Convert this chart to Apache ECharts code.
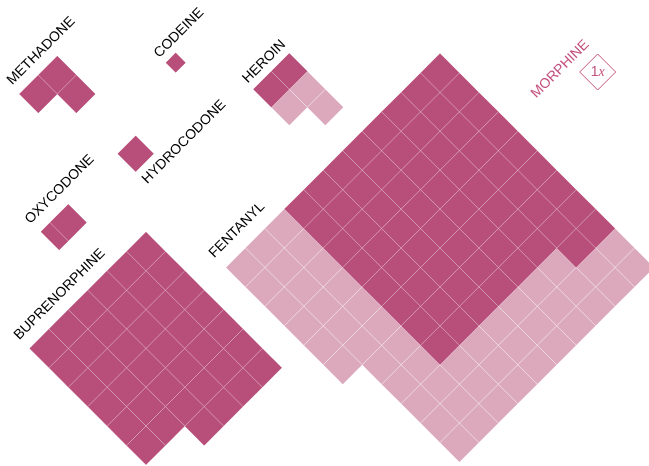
<!DOCTYPE html>
<html><head><meta charset="utf-8">
<script src="https://cdn.jsdelivr.net/npm/echarts@6/dist/echarts.min.js"></script>
<style>html,body{margin:0;padding:0;background:#fff}#c{width:649px;height:466px}</style>
</head><body><div id="c"></div>
<script>
// ---- data (potency relative to morphine; low = dark, high = light range) ----
const drugs = ['METHADONE','CODEINE','HEROIN','HYDROCODONE','OXYCODONE','BUPRENORPHINE','FENTANYL'];
const potencyLow  = [3, 0.3, 2, 1, 1.5, 40, 66];
const potencyHigh = [3, 0.3, 5, 1, 1.5, 40, 116];
const referenceName = 'MORPHINE';
const referenceValue = 1;

// ---- layout / style (positions in px of a 649x466 canvas) ----
const layout = {
  METHADONE:     {top:[57.3,56],    s:19,    lowFill:['v',2], highFill:['v',2], label:[13,86]},
  CODEINE:       {top:[175.7,52.8], s:18,    lowFill:['v',1], highFill:['v',1], label:[160,59]},
  HEROIN:        {top:[289.3,53.3], s:18,    lowFill:['v',2], highFill:['v',2], label:[248.5,84.3]},
  HYDROCODONE:   {top:[135.7,135.7],s:18,    lowFill:['v',1], highFill:['v',1], label:[148,185]},
  OXYCODONE:     {top:[68.3,204.3], s:18.3,  lowFill:['v',2], highFill:['v',2], label:[31,225]},
  BUPRENORPHINE: {top:[146,232],    s:19.4,  lowFill:['v',6], highFill:['v',6], label:[20,341]},
  FENTANYL:      {top:[440,53.5],   s:19.45, lowFill:['v',8], highFill:['u',11], label:[215,259]},
  MORPHINE:      {top:[597.7,54],   s:18,    label:[537,99.3]}
};
const DARK = '#b84f7a', LIGHT = '#dba8bc', PINK = '#c4517f';
const FONT = '14px "Liberation Sans", Arial, sans-serif';

function cells(value, fill) {
  const dir = fill[0], width = fill[1], out = [];
  if (value < 1) { const f = Math.sqrt(value); out.push([0, 0, f, f]); return out; }
  let k = 0, rem = value;
  while (rem > 1e-9) {
    const a = Math.floor(k / width), b = k % width, frac = Math.min(1, rem);
    if (dir === 'v') out.push([a, b, 1, frac]); else out.push([b, a, frac, 1]);
    rem -= frac; k++;
  }
  return out;
}
function build(values, key) {
  const data = [];
  drugs.forEach((d, k) => cells(values[k], layout[d][key]).forEach(c => data.push([k].concat(c))));
  return data;
}
const highData = build(potencyHigh, 'highFill');
const lowData = build(potencyLow, 'lowFill');

function makeRender(fillColor, lineColor) {
  return function (params, api) {
    const L = layout[drugs[api.value(0)]];
    const i = api.value(1), j = api.value(2), du = api.value(3), dv = api.value(4);
    const P = (u, v) => api.coord([L.top[0] + (u - v) * L.s, L.top[1] + (u + v) * L.s]);
    const p0 = P(i, j), p1 = P(i + du, j), p2 = P(i + du, j + dv), p3 = P(i, j + dv);
    const ch = [{type: 'polygon', shape: {points: [p0, p1, p2, p3]}, style: {fill: fillColor}}];
    if (i > 0) ch.push({type: 'line', shape: {x1: p0[0], y1: p0[1], x2: p3[0], y2: p3[1]}, style: {stroke: lineColor, lineWidth: 0.7}});
    if (j > 0) ch.push({type: 'line', shape: {x1: p0[0], y1: p0[1], x2: p1[0], y2: p1[1]}, style: {stroke: lineColor, lineWidth: 0.7}});
    return {type: 'group', children: ch};
  };
}

const labelData = drugs.map((d, k) => [k]);
function labelRender(params, api) {
  const name = drugs[api.value(0)];
  const S = layout[name].label;
  const p = api.coord([S[0] - 3.5, S[1] - 3.5]);
  return {type: 'text', x: p[0], y: p[1], rotation: Math.PI / 4,
    style: {text: name, font: FONT, fill: '#000', align: 'left', verticalAlign: 'middle'}};
}
function refRender(params, api) {
  const L = layout[referenceName];
  const f = Math.sqrt(referenceValue);
  const P = (u, v) => api.coord([L.top[0] + (u - v) * L.s, L.top[1] + (u + v) * L.s]);
  const c = P(f / 2, f / 2);
  const S = L.label;
  const lp = api.coord([S[0] - 3.5, S[1] - 3.5]);
  return {type: 'group', children: [
    {type: 'polygon', shape: {points: [P(0, 0), P(f, 0), P(f, f), P(0, f)]}, style: {fill: 'none', stroke: PINK, lineWidth: 1}},
    {type: 'text', x: c[0], y: c[1], style: {text: '{a|1}{b|x}', align: 'center', verticalAlign: 'middle',
      rich: {a: {font: '14px "Liberation Sans", Arial', fill: PINK}, b: {font: 'italic 14px "Liberation Serif", serif', fill: PINK}}}},
    {type: 'text', x: lp[0], y: lp[1], rotation: Math.PI / 4,
      style: {text: referenceName, font: FONT, fill: PINK, align: 'left', verticalAlign: 'middle'}}
  ]};
}

const chart = echarts.init(document.getElementById('c'), null, {renderer: 'canvas'});
chart.setOption({
  animation: false,
  grid: {left: 0, right: 0, top: 0, bottom: 0},
  xAxis: {type: 'value', min: 0, max: 649, show: false},
  yAxis: {type: 'value', min: 0, max: 466, inverse: true, show: false},
  series: [
    {type: 'custom', name: 'high', renderItem: makeRender(LIGHT, 'rgba(255,255,255,0.55)'), data: highData, clip: false, encode: {x: 1, y: 2}},
    {type: 'custom', name: 'low', renderItem: makeRender(DARK, 'rgba(255,255,255,0.38)'), data: lowData, clip: false, encode: {x: 1, y: 2}},
    {type: 'custom', name: 'labels', renderItem: labelRender, data: labelData, clip: false, encode: {x: 0, y: 0}},
    {type: 'custom', name: 'reference', renderItem: refRender, data: [[referenceValue]], clip: false, encode: {x: 0, y: 0}}
  ]
});
</script></body></html>
